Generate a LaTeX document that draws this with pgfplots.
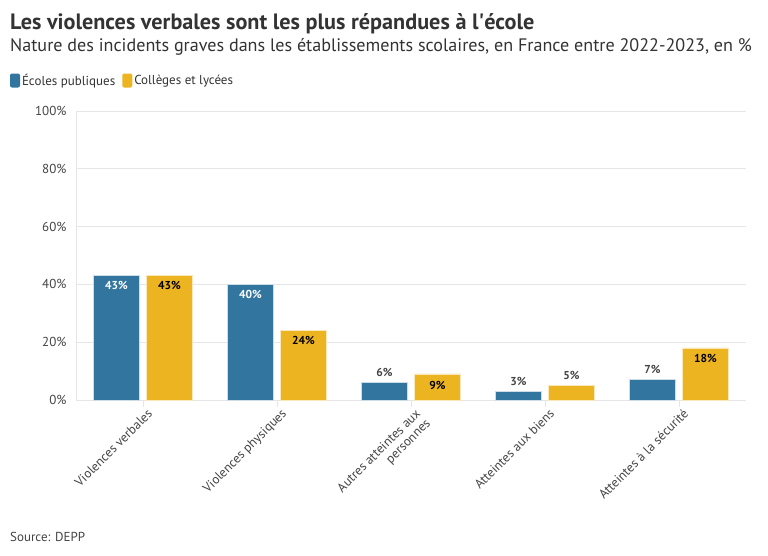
\documentclass[border=0pt]{standalone}
\usepackage{pgfplots}
\pgfplotsset{compat=1.18}
\usepackage{pgfplotstable}
\usepackage{fontspec}
\setmainfont{PT Sans}

\definecolor{barblue}{HTML}{3276A0}
\definecolor{baryellow}{HTML}{EDB421}
\definecolor{lbl}{HTML}{444444}
\definecolor{ttl}{HTML}{333333}
\definecolor{axgray}{HTML}{E6E6E6}
% label colours by code
\colorlet{lblc1}{white}
\colorlet{lblc2}{black}
\colorlet{lblc3}{lbl}

% x: category index, y: percent, dy: label offset (pt), c: label colour code
\pgfplotstableread{
x y dy c
0 43 -10 1
1 40 -10 1
2 6 10 3
3 3 10 3
4 7 10 3
}\ecoles
\pgfplotstableread{
x y dy c
0 43 -10 2
1 24 -10 2
2 9 -11 2
3 5 10 3
4 18 -10 2
}\colleges

\begin{document}
\begin{tikzpicture}[x=1pt,y=1pt]
\path[use as bounding box] (0,0) rectangle (768,555);

\node[anchor=base west, inner sep=0, font=\fontsize{22.2}{25}\selectfont\bfseries, text=ttl]
  at (10,525) {Les violences verbales sont les plus répandues à l\textquotesingle école};
\node[anchor=base west, inner sep=0, font=\fontsize{18.1}{21}\selectfont, text=ttl]
  at (10,503) {Nature des incidents graves dans les établissements scolaires, en France entre 2022-2023, en \%};
\node[anchor=base west, inner sep=0, font=\fontsize{13}{15}\selectfont, text=lbl]
  at (10,14) {Source: DEPP};

\begin{axis}[
    at={(76pt,155pt)}, anchor=south west,
    scale only axis,
    width=670pt, height=289pt,
    ybar=7pt, bar width=46pt,
    xmin=-0.5, xmax=4.5,
    ymin=0, ymax=100,
    ytick={0,20,...,100},
    yticklabel={\pgfmathprintnumber[assume math mode=true]{\tick}\%},
    xtick={0,...,4},
    xticklabels={Violences verbales, Violences physiques, {Autres atteintes aux\\personnes}, Atteintes aux biens, Atteintes à la sécurité},
    xticklabel style={rotate=45, anchor=north east, align=right, inner sep=1pt, xshift=3pt, yshift=-2pt},
    ticklabel style={font=\fontsize{13}{14}\selectfont, text=lbl},
    axis lines*=left,
    axis line style={axgray, line width=1pt, -},
    tick align=outside,
    x tick style={axgray, line width=1pt},
    major tick length=7pt,
    y tick style={draw=none},
    ymajorgrids, grid style={axgray, line width=0.8pt},
    yticklabel style={xshift=1pt},
    legend style={at={(-0.0985,1.1055)}, anchor=west, draw=none, fill=none,
        inner sep=0pt, outer sep=0pt,
        font=\fontsize{13}{15}\selectfont, text=ttl,
        /tikz/every even column/.append style={column sep=5pt}},
    legend columns=-1,
    legend cell align=left,
    legend image code/.code={\fill[#1,draw=none,rounded corners=2pt] (0pt,-7pt) rectangle (10pt,7pt);},
    nodes near coords={\pgfmathprintnumber[assume math mode=true]{\pgfplotspointmeta}\%},
    visualization depends on={\thisrow{dy} \as \dy},
    visualization depends on={\thisrow{c} \as \lblcode},
    every node near coord/.append style={anchor=center, yshift=\dy pt,
        /utils/exec={\pgfmathtruncatemacro\lblc{\lblcode}}, text=lblc\lblc,
        font=\fontsize{11.5}{13}\selectfont\bfseries},
]
\addplot[fill=barblue, draw=white!75!barblue, line width=0.8pt] table[x=x, y=y] {\ecoles};
\addlegendentry{Écoles publiques}
\addplot[fill=baryellow, draw=white!70!baryellow, line width=0.8pt] table[x=x, y=y] {\colleges};
\addlegendentry{Collèges et lycées}
\end{axis}
\end{tikzpicture}
\end{document}
